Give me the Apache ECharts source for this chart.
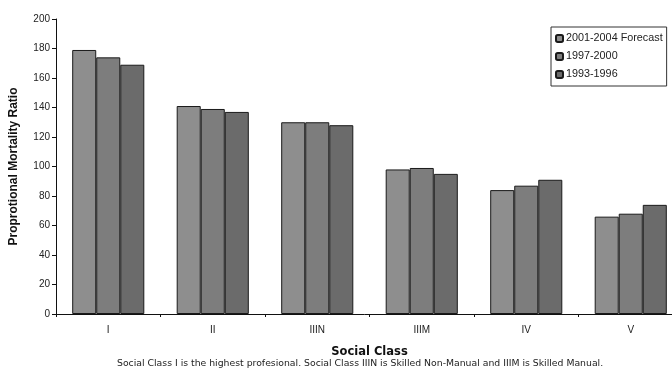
<!DOCTYPE html>
<html>
<head>
<meta charset="utf-8">
<script src="https://cdn.jsdelivr.net/npm/echarts@6/dist/echarts.min.js"></script>
<style>
  html, body { margin: 0; padding: 0; background: #fff; }
  #chart { width: 672px; height: 375px; }
</style>
</head>
<body>
<div id="chart"></div>
<script>
var classes = ['I', 'II', 'IIIN', 'IIIM', 'IV', 'V'];
var forecast0104 = [179, 141, 130, 98, 84, 66];
var period9700 = [174, 139, 130, 99, 87, 68];
var period9396 = [169, 137, 128, 95, 91, 74];
var yTicks = [0, 200, 20]; // min, max, interval

var font = 'Liberation Sans, Arial, sans-serif';
var wideFont = 'DejaVu Sans, Verdana, sans-serif';
var chart = echarts.init(document.getElementById('chart'));

function bar(name, data, color) {
  return {
    name: name,
    type: 'bar',
    data: data,
    barGap: '0%',
    barCategoryGap: '31%',
    itemStyle: { color: color, borderColor: '#1a1a1a', borderWidth: 1 }
  };
}

chart.setOption({
  animation: false,
  backgroundColor: '#fff',
  textStyle: { fontFamily: font },
  grid: { left: 56, right: -11, top: 19, bottom: 61, outerBoundsMode: 'none', containLabel: false },
  legend: {
    orient: 'vertical',
    left: 551,
    top: 27,
    padding: [6, 4, 6, 4],
    itemGap: 7,
    itemWidth: 7,
    itemHeight: 7,
    borderColor: '#333',
    borderWidth: 1,
    textStyle: { fontSize: 10.8, color: '#222', fontFamily: font, padding: [0, 0, 0, -2] },
    data: ['2001-2004 Forecast', '1997-2000', '1993-1996']
  },
  xAxis: {
    type: 'category',
    data: classes,
    name: 'Social Class',
    nameLocation: 'middle',
    nameGap: 32,
    nameTextStyle: { fontSize: 11.5, fontWeight: 'bold', color: '#111', fontFamily: wideFont },
    axisLine: { lineStyle: { color: '#111', width: 1 } },
    axisTick: { show: true, length: 3, lineStyle: { color: '#111' } },
    axisLabel: { fontSize: 10, color: '#222', margin: 11 }
  },
  yAxis: {
    type: 'value',
    min: yTicks[0],
    max: yTicks[1],
    interval: yTicks[2],
    name: 'Proprotional Mortality Ratio',
    nameLocation: 'middle',
    nameGap: 36,
    nameTextStyle: { fontSize: 12, fontWeight: 'bold', color: '#111' },
    axisLine: { show: true, lineStyle: { color: '#111', width: 1 } },
    axisTick: { show: true, length: 4, lineStyle: { color: '#111' } },
    axisLabel: { fontSize: 10, color: '#222', margin: 6 },
    splitLine: { show: false }
  },
  graphic: [{
    type: 'text',
    left: 117,
    top: 359,
    style: {
      text: 'Social Class I is the highest profesional. Social Class IIIN is Skilled Non-Manual and IIIM is Skilled Manual.',
      fontSize: 9.3,
      fill: '#222',
      fontFamily: wideFont
    }
  }],
  series: [
    bar('2001-2004 Forecast', forecast0104, '#8e8e8e'),
    bar('1997-2000', period9700, '#7d7d7d'),
    bar('1993-1996', period9396, '#6b6b6b')
  ]
});
</script>
</body>
</html>
